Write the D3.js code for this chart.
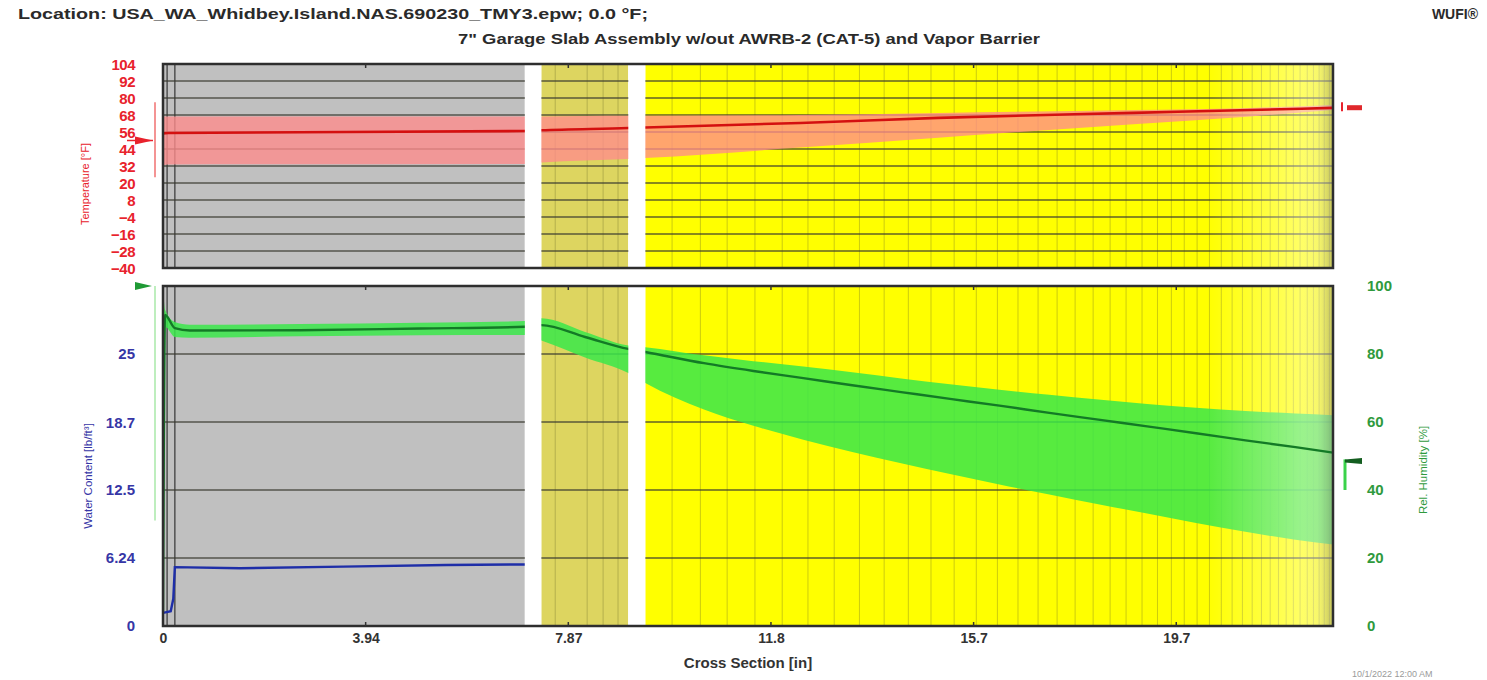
<!DOCTYPE html>
<html>
<head>
<meta charset="utf-8">
<script src="https://cdn.jsdelivr.net/npm/d3@7"></script>
<style>
  body { margin: 0; background: #fff; }
  svg { display: block; font-family: "Liberation Sans", Arial, sans-serif; }
</style>
</head>
<body>
<svg id="chart" width="1487" height="680"></svg>
<script>
// ---- data ----
var xTickVals = [0, 3.937, 7.874, 11.811, 15.748, 19.685];
var xTickLabels = ["0", "3.94", "7.87", "11.8", "15.7", "19.7"];
var tempTicks = [104, 92, 80, 68, 56, 44, 32, 20, 8, -4, -16, -28, -40];
var rhTicks = [0, 20, 40, 60, 80, 100];
var wcTicks = [0, 6.24, 12.5, 18.7, 25];
var wcTickLabels = ["0", "6.24", "12.5", "18.7", "25"];

// layers (inch)
var layerStart = [0, 7.03, 7.35, 9.04, 9.37];
var layerEnd = [7.03, 7.35, 9.04, 9.37, 22.73];

// mesh lines (inch)
var meshDark = [0.08, 0.23];
var meshLines = [7.62, 8.24, 8.55, 8.84, 9.89, 10.44, 10.96, 11.50, 12.03, 12.53, 13.04, 13.53, 14.01,
  14.48, 14.92, 15.37, 15.80, 16.21, 16.61, 17.00, 17.37, 17.72, 18.07, 18.40, 18.71, 19.02, 19.32,
  19.59, 19.84, 20.09, 20.33, 20.56, 20.77, 20.97, 21.16, 21.34, 21.51, 21.67, 21.82, 21.96, 22.09,
  22.23, 22.35, 22.46, 22.56, 22.66];

// temperature [F]
var tempX = [0, 0.1, 7.03, 7.35, 9.04, 9.37, 12.38, 15.06, 18.85, 21.12, 22.73];
var tempMean = [55, 55.3, 56.7, 57.2, 58.8, 59.2, 62.4, 66, 69.5, 71.5, 73];
var tempMax = [67, 67, 67, 67, 67.5, 67.5, 68, 69.5, 71.5, 73, 75];
var tempMin = [32.5, 33, 33.5, 34.5, 37, 37.6, 45, 52, 61.5, 67, 71.5];

// relative humidity [%]
var rhX = [0, 0.04, 0.23, 0.52, 2.66, 5.0, 7.03, 7.35, 8.2, 9.04, 9.37, 10.51, 11.47, 12.44, 13.39,
  14.34, 15.29, 16.25, 17.22, 18.17, 19.12, 20.07, 21.03, 22.0, 22.73];
var rhMean = [4, 91.5, 87.6, 86.9, 87.0, 87.5, 88.0, 88.5, 85, 81.5, 80.6, 77.3, 75, 72.9, 70.8,
  68.8, 66.8, 64.8, 62.7, 60.7, 58.7, 56.7, 54.6, 52.6, 51];
var rhMax = [100, 93, 89.4, 88.6, 88.8, 89.2, 89.7, 90.5, 86.5, 82.5, 82, 79.6, 77.9, 76.3, 74.6,
  72.8, 71.1, 69.5, 68, 66.6, 65.3, 64.2, 63.2, 62.5, 62];
var rhMin = [2, 88, 85, 84.8, 85.2, 85.5, 85.6, 84, 79, 74.4, 71.5, 63.7, 58.9, 54.8, 51.2,
  47.9, 44.7, 41.6, 38.7, 35.8, 33.1, 30.3, 27.7, 25.4, 24];

// water content [lb/ft3]
var wcX = [0, 0.15, 0.2, 0.23, 1.5, 3.5, 5.5, 7.03];
var wcVal = [1.2, 1.35, 2.5, 5.4, 5.3, 5.45, 5.6, 5.65];

// boundary indicators: [current, low, high]
var extTemp = [50, 24, 77];
var intTemp = [73.5];
var extRH = [100, 31, 100];
var intRH = [48.5, 40, 49];

// ---- drawing ----
var svg = d3.select("#chart");
var left = 163, right = 1333;
var topP = { y0: 64, y1: 268 }, botP = { y0: 286, y1: 626 };

var x = d3.scaleLinear().domain([0, 22.73]).range([left, right]);
var yT = d3.scaleLinear().domain([-40, 104]).range([topP.y1, topP.y0]);
var yRH = d3.scaleLinear().domain([0, 100]).range([botP.y1, botP.y0]);
var yWC = d3.scaleLinear().domain([0, 31.2]).range([botP.y1, botP.y0]);

var layerColor = ["#c0c0c0", "#ffffff", "#ddd560", "#ffffff", "#ffff00"];

var defs = svg.append("defs");
var fade = defs.append("linearGradient").attr("id", "fade")
  .attr("x1", "0").attr("x2", "1").attr("y1", "0").attr("y2", "0");
fade.append("stop").attr("offset", "0").attr("stop-color", "#fff").attr("stop-opacity", 0);
fade.append("stop").attr("offset", "0.75").attr("stop-color", "#fff").attr("stop-opacity", 0.4);
fade.append("stop").attr("offset", "0.88").attr("stop-color", "#eee").attr("stop-opacity", 0.45);
fade.append("stop").attr("offset", "1").attr("stop-color", "#999").attr("stop-opacity", 0.6);

function panel(p, id) {
  defs.append("clipPath").attr("id", id)
    .append("rect").attr("x", left).attr("y", p.y0).attr("width", right - left).attr("height", p.y1 - p.y0);
  var g = svg.append("g").attr("clip-path", "url(#" + id + ")");
  g.selectAll("rect.layer").data(layerStart).join("rect").attr("class", "layer")
    .attr("x", function (d) { return x(d); })
    .attr("width", function (d, i) { return x(layerEnd[i]) - x(d); })
    .attr("y", p.y0).attr("height", p.y1 - p.y0)
    .attr("fill", function (d, i) { return layerColor[i]; });
  g.selectAll("line.mesh").data(meshLines).join("line").attr("class", "mesh")
    .attr("x1", function (d) { return x(d); }).attr("x2", function (d) { return x(d); })
    .attr("y1", p.y0).attr("y2", p.y1)
    .attr("stroke", "rgba(110,110,40,0.35)").attr("stroke-width", 1);
  g.selectAll("line.meshd").data(meshDark).join("line").attr("class", "meshd")
    .attr("x1", function (d) { return x(d); }).attr("x2", function (d) { return x(d); })
    .attr("y1", p.y0).attr("y2", p.y1)
    .attr("stroke", "#505050").attr("stroke-width", 1.5);
  return g;
}

function whiteStrips(g, p) {
  g.selectAll("rect.gap").data([1, 3]).join("rect").attr("class", "gap")
    .attr("x", function (i) { return x(layerStart[i]); })
    .attr("width", function (i) { return x(layerEnd[i]) - x(layerStart[i]); })
    .attr("y", p.y0).attr("height", p.y1 - p.y0).attr("fill", "#fff");
}

function fadeRect(g, p) {
  g.append("rect").attr("x", x(20.3)).attr("width", right - x(20.3))
    .attr("y", p.y0).attr("height", p.y1 - p.y0).attr("fill", "url(#fade)");
}

var curve = d3.curveMonotoneX;

// ---------- top panel : temperature ----------
var gT = panel(topP, "clipT");
gT.selectAll("line.grid").data(tempTicks.slice(1, -1)).join("line").attr("class", "grid")
  .attr("x1", left).attr("x2", right)
  .attr("y1", function (d) { return yT(d); }).attr("y2", function (d) { return yT(d); })
  .attr("stroke", "#3a3a30").attr("stroke-opacity", 0.8).attr("stroke-width", 1.6);

var tempPts = tempX.map(function (d, i) { return { x: d, m: tempMean[i], lo: tempMin[i], hi: tempMax[i] }; });
gT.append("path").datum(tempPts)
  .attr("d", d3.area().curve(curve).x(function (d) { return x(d.x); }).y0(function (d) { return yT(d.lo); }).y1(function (d) { return yT(d.hi); }))
  .attr("fill", "#ff8c8c").attr("fill-opacity", 0.78);
fadeRect(gT, topP);
gT.append("path").datum(tempPts)
  .attr("d", d3.line().curve(curve).x(function (d) { return x(d.x); }).y(function (d) { return yT(d.m); }))
  .attr("fill", "none").attr("stroke", "#d41010").attr("stroke-width", 2.6);
whiteStrips(gT, topP);

// ---------- bottom panel : RH + water content ----------
var gB = panel(botP, "clipB");
gB.selectAll("line.grid").data(rhTicks.slice(1, -1)).join("line").attr("class", "grid")
  .attr("x1", left).attr("x2", right)
  .attr("y1", function (d) { return yRH(d); }).attr("y2", function (d) { return yRH(d); })
  .attr("stroke", "#3a3a30").attr("stroke-opacity", 0.8).attr("stroke-width", 1.6);

var rhPts = rhX.map(function (d, i) { return { x: d, m: rhMean[i], lo: rhMin[i], hi: rhMax[i] }; });
gB.append("path").datum(rhPts)
  .attr("d", d3.area().curve(curve).x(function (d) { return x(d.x); }).y0(function (d) { return yRH(d.lo); }).y1(function (d) { return yRH(d.hi); }))
  .attr("fill", "#3ae84a").attr("fill-opacity", 0.85);
fadeRect(gB, botP);
gB.append("path").datum(rhPts)
  .attr("d", d3.line().curve(curve).x(function (d) { return x(d.x); }).y(function (d) { return yRH(d.m); }))
  .attr("fill", "none").attr("stroke", "#137a26").attr("stroke-width", 2.4);

var wcPts = wcX.map(function (d, i) { return { x: d, v: wcVal[i] }; });
gB.append("path").datum(wcPts)
  .attr("d", d3.line().x(function (d) { return x(d.x); }).y(function (d) { return yWC(d.v); }))
  .attr("fill", "none").attr("stroke", "#1e2ea8").attr("stroke-width", 2.4);
whiteStrips(gB, botP);

// frames
[topP, botP].forEach(function (p) {
  svg.append("rect").attr("x", left).attr("y", p.y0).attr("width", right - left).attr("height", p.y1 - p.y0)
    .attr("fill", "none").attr("stroke", "#2e2e2e").attr("stroke-width", 2.5);
});

// ---------- axes ----------
var fontAxis = function (sel, col) {
  sel.select(".domain").remove();
  sel.selectAll("line").remove();
  sel.selectAll("text").attr("fill", col).style("font-size", "15px").style("font-weight", "bold")
    .style("font-family", "'Liberation Sans', Arial, sans-serif");
};

svg.append("g").attr("transform", "translate(" + (left - 28) + ",0)")
  .call(d3.axisLeft(yT).tickValues(tempTicks).tickSize(0).tickPadding(0).tickFormat(d3.format("d")))
  .call(fontAxis, "#e8222c")
  .selectAll("text").attr("dy", "0.36em").style("letter-spacing", "-0.5px");

svg.append("g").attr("transform", "translate(" + (left - 28) + ",0)")
  .call(d3.axisLeft(yWC).tickValues(wcTicks).tickSize(0).tickPadding(0)
    .tickFormat(function (d, i) { return wcTickLabels[i]; }))
  .call(fontAxis, "#3636a6");

svg.append("g").attr("transform", "translate(" + (right + 34) + ",0)")
  .call(d3.axisRight(yRH).tickValues(rhTicks).tickSize(0).tickPadding(0))
  .call(fontAxis, "#2f9a3d");

var xg = svg.append("g").attr("transform", "translate(0," + (botP.y1 + 3) + ")")
  .call(d3.axisBottom(x).tickValues(xTickVals).tickSize(0).tickPadding(4)
    .tickFormat(function (d, i) { return xTickLabels[i]; }))
  .call(fontAxis, "#333");
xg.selectAll("text").style("font-size", "14px");

// small inward x ticks
[topP.y0, botP.y0, botP.y1].forEach(function (yy, k) {
  svg.selectAll(null).data(xTickVals.slice(1)).join("line")
    .attr("x1", function (d) { return x(d); }).attr("x2", function (d) { return x(d); })
    .attr("y1", yy).attr("y2", yy + (k === 2 ? -4 : 4))
    .attr("stroke", "#333").attr("stroke-width", 1.5);
});

// axis titles
svg.append("text").attr("transform", "translate(89,184) rotate(-90)").attr("text-anchor", "middle")
  .attr("fill", "#e8222c").style("font-size", "11px").text("Temperature [°F]");
svg.append("text").attr("transform", "translate(92,476) rotate(-90)").attr("text-anchor", "middle")
  .attr("fill", "#3636a6").style("font-size", "11.5px").text("Water Content [lb/ft³]");
svg.append("text").attr("transform", "translate(1427,470) rotate(-90)").attr("text-anchor", "middle")
  .attr("fill", "#2f9a3d").style("font-size", "11.5px").text("Rel. Humidity [%]");
svg.append("text").attr("x", 748).attr("y", 668).attr("text-anchor", "middle")
  .attr("fill", "#333").style("font-size", "15px").style("font-weight", "bold").text("Cross Section [in]");

// titles
svg.append("text").attr("x", 18).attr("y", 19).attr("fill", "#2a2a2a")
  .attr("textLength", 630).attr("lengthAdjust", "spacingAndGlyphs")
  .style("font-size", "15px").style("font-weight", "bold")
  .text("Location: USA_WA_Whidbey.Island.NAS.690230_TMY3.epw; 0.0 °F;");
svg.append("text").attr("x", 458).attr("y", 44).attr("fill", "#2a2a2a")
  .attr("textLength", 582).attr("lengthAdjust", "spacingAndGlyphs")
  .style("font-size", "15px").style("font-weight", "bold")
  .text("7\" Garage Slab Assembly w/out AWRB-2 (CAT-5) and Vapor Barrier");
svg.append("text").attr("x", 1478).attr("y", 19).attr("text-anchor", "end").attr("fill", "#2a2a2a")
  .style("font-size", "14px").style("font-weight", "bold").text("WUFI®");
svg.append("text").attr("x", 1352).attr("y", 677).attr("fill", "#9a9a9a")
  .style("font-size", "9px").text("10/1/2022 12:00 AM");

// ---------- boundary indicators ----------
// exterior temperature (left)
svg.append("line").attr("x1", 155).attr("x2", 155)
  .attr("y1", yT(extTemp[2])).attr("y2", yT(extTemp[1]))
  .attr("stroke", "#f07070").attr("stroke-width", 1.5);
svg.append("path")
  .attr("d", "M135," + (yT(extTemp[0]) - 4) + "L153," + yT(extTemp[0]) + "L135," + (yT(extTemp[0]) + 4) + "Z")
  .attr("fill", "#e8222c");
svg.append("line").attr("x1", 127).attr("x2", 153).attr("y1", yT(extTemp[0])).attr("y2", yT(extTemp[0]))
  .attr("stroke", "#e8222c").attr("stroke-width", 1.5);
// interior temperature (right)
svg.append("line").attr("x1", 1342).attr("x2", 1342)
  .attr("y1", yT(intTemp[0]) - 5).attr("y2", yT(intTemp[0]) + 4)
  .attr("stroke", "#e8222c").attr("stroke-width", 2);
svg.append("rect").attr("x", 1347).attr("y", yT(intTemp[0]) - 2).attr("width", 15).attr("height", 5)
  .attr("fill", "#e0282c");

// exterior RH (left)
svg.append("line").attr("x1", 155).attr("x2", 155)
  .attr("y1", yRH(extRH[2])).attr("y2", yRH(extRH[1]))
  .attr("stroke", "#a8e8a8").attr("stroke-width", 1.5);
svg.append("path")
  .attr("d", "M135," + (yRH(extRH[0]) - 4) + "L152," + yRH(extRH[0]) + "L135," + (yRH(extRH[0]) + 4) + "Z")
  .attr("fill", "#1f9a35");
// interior RH (right)
svg.append("line").attr("x1", 1345).attr("x2", 1345)
  .attr("y1", yRH(intRH[2])).attr("y2", yRH(intRH[1]))
  .attr("stroke", "#3ad24a").attr("stroke-width", 3);
svg.append("path")
  .attr("d", "M1345," + (yRH(intRH[0]) - 1.5) + "L1362," + (yRH(intRH[0]) - 3) + "L1362," + (yRH(intRH[0]) + 3) + "L1345," + (yRH(intRH[0]) + 1.5) + "Z")
  .attr("fill", "#145e20");
</script>
</body>
</html>
